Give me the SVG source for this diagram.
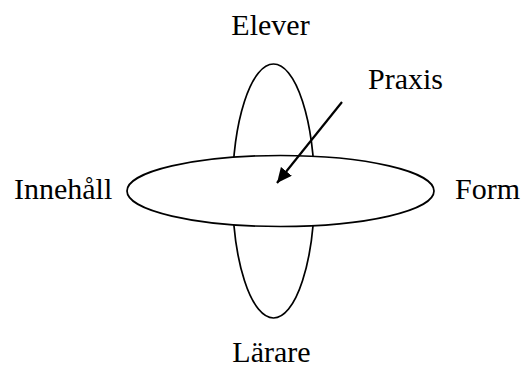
<svg xmlns="http://www.w3.org/2000/svg" width="523" height="369" viewBox="0 0 523 369">
<defs>
<style>
.lbl{font-family:"Liberation Serif","Times New Roman",serif;font-size:30px;fill:#000}
.ell{stroke:#000;stroke-width:1.7;fill:#fff}
.arr{stroke:#000;stroke-width:2.2;fill:none}
</style>
<marker id="ah" markerUnits="userSpaceOnUse" markerWidth="16" markerHeight="14" refX="15" refY="7" orient="auto">
<path d="M0,0 L15,7 L0,14 Z" fill="#000"/>
</marker>
</defs>
<rect width="523" height="369" fill="#fff"/>
<g id="elever-larare">
<ellipse class="ell" cx="273.5" cy="191" rx="41" ry="127"/>
</g>
<g id="innehall-form">
<ellipse class="ell" cx="280.5" cy="191" rx="153.5" ry="35.5"/>
</g>
<g id="connectors">
<line class="arr" x1="342" y1="102" x2="277" y2="183" marker-end="url(#ah)"/>
</g>
<g id="label-elever"><text class="lbl" x="270.5" y="35" text-anchor="middle">Elever</text></g>
<g id="label-praxis"><text class="lbl" x="368" y="89">Praxis</text></g>
<g id="label-innehall"><text class="lbl" x="14" y="199">Innehåll</text></g>
<g id="label-form"><text class="lbl" x="455" y="199">Form</text></g>
<g id="label-larare"><text class="lbl" x="271.5" y="362" text-anchor="middle">Lärare</text></g>
</svg>
